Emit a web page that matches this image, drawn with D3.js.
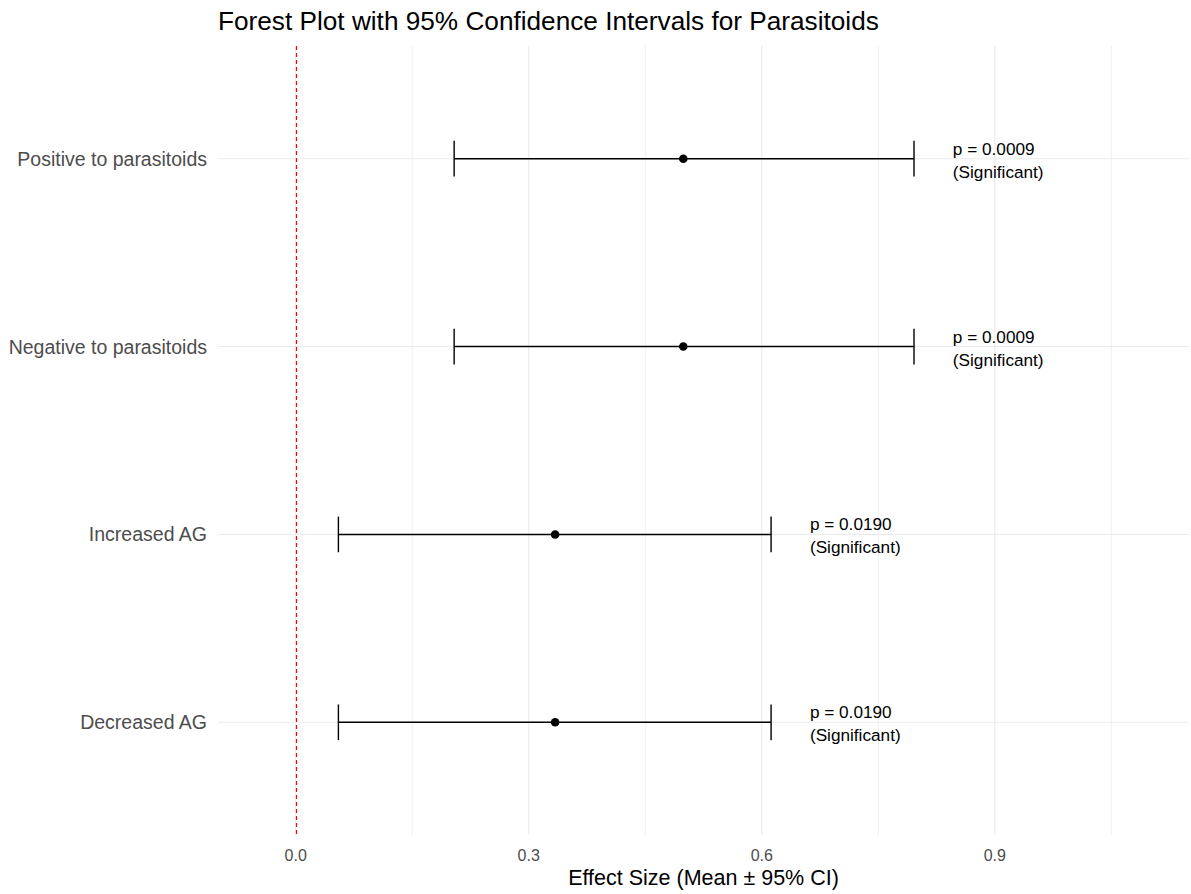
<!DOCTYPE html>
<html>
<head>
<meta charset="UTF-8">
<title>Forest Plot with 95% Confidence Intervals for Parasitoids</title>
<script src="https://cdn.jsdelivr.net/npm/d3@7"></script>
<style>
  body { margin: 0; background: #fff; }
  svg { display: block; font-family: "Liberation Sans", Arial, sans-serif; }
  .grid line { stroke: #ebebeb; }
  .ytick { fill: #4d4d4d; font-size: 19.5px; }
  .xtick { fill: #4d4d4d; font-size: 16px; }
  .note { fill: #000; font-size: 17.2px; }
</style>
</head>
<body>
<div id="chart"></div>
<script>
// data
var categories = ["Positive to parasitoids", "Negative to parasitoids", "Increased AG", "Decreased AG"];
var means  = [0.499, 0.499, 0.334, 0.334];
var lower  = [0.204, 0.204, 0.055, 0.055];
var upper  = [0.796, 0.796, 0.612, 0.612];
var pvals  = ["0.0009", "0.0009", "0.0190", "0.0190"];
var signif = ["Significant", "Significant", "Significant", "Significant"];
var xTicks = [0, 0.3, 0.6, 0.9];
var xMinor = [0.15, 0.45, 0.75, 1.05];

var width = 1191, height = 894;
var panel = {left: 218, right: 1189, top: 46, bottom: 835};

var svg = d3.select("#chart").append("svg")
    .attr("width", width)
    .attr("height", height);

var x = d3.scaleLinear()
    .domain([-0.1, 1.15])
    .range([panel.left, panel.right]);

var y = d3.scalePoint()
    .domain(categories)
    .range([panel.top, panel.bottom])
    .padding(0.6);

var rows = categories.map(function(c, i) {
  return {cat: c, mean: means[i], lo: lower[i], hi: upper[i], p: pvals[i], sig: signif[i]};
});

// grid
var grid = svg.append("g").attr("class", "grid");
grid.selectAll(".minor").data(xMinor).enter().append("line")
    .attr("x1", x).attr("x2", x)
    .attr("y1", panel.top).attr("y2", panel.bottom)
    .style("stroke-width", 0.8);
grid.selectAll(".major").data(xTicks).enter().append("line")
    .attr("x1", x).attr("x2", x)
    .attr("y1", panel.top).attr("y2", panel.bottom)
    .style("stroke-width", 1.1);
grid.selectAll(".hline").data(categories).enter().append("line")
    .attr("x1", panel.left).attr("x2", panel.right)
    .attr("y1", y).attr("y2", y)
    .style("stroke-width", 1.1);

// reference line at zero
var x0 = Math.round(x(0)) + 0.5;
svg.append("line")
    .attr("x1", x0).attr("x2", x0)
    .attr("y1", panel.top).attr("y2", panel.bottom)
    .attr("stroke", "#ff0000")
    .attr("stroke-width", 1.2)
    .attr("stroke-dasharray", "4,3");

// error bars
var half = y.step() * 0.095;
var bars = svg.append("g").selectAll("g")
    .data(rows).enter().append("g")
    .attr("stroke", "#000")
    .attr("stroke-width", 1.4);

bars.append("line")
    .attr("x1", function(d) { return x(d.lo); })
    .attr("x2", function(d) { return x(d.hi); })
    .attr("y1", function(d) { return y(d.cat); })
    .attr("y2", function(d) { return y(d.cat); });
bars.append("line")
    .attr("x1", function(d) { return x(d.lo); })
    .attr("x2", function(d) { return x(d.lo); })
    .attr("y1", function(d) { return y(d.cat) - half; })
    .attr("y2", function(d) { return y(d.cat) + half; });
bars.append("line")
    .attr("x1", function(d) { return x(d.hi); })
    .attr("x2", function(d) { return x(d.hi); })
    .attr("y1", function(d) { return y(d.cat) - half; })
    .attr("y2", function(d) { return y(d.cat) + half; });

svg.append("g").selectAll("circle")
    .data(rows).enter().append("circle")
    .attr("cx", function(d) { return x(d.mean); })
    .attr("cy", function(d) { return y(d.cat); })
    .attr("r", 4.3)
    .attr("fill", "#000");

// p-value notes
var notes = svg.append("g").selectAll("text")
    .data(rows).enter().append("text")
    .attr("class", "note")
    .attr("x", function(d) { return x(d.hi + 0.05); })
    .attr("y", function(d) { return y(d.cat); });
notes.append("tspan")
    .attr("x", function(d) { return x(d.hi + 0.05); })
    .attr("dy", -4)
    .text(function(d) { return "p = " + d.p; });
notes.append("tspan")
    .attr("x", function(d) { return x(d.hi + 0.05); })
    .attr("dy", 23)
    .text(function(d) { return "(" + d.sig + ")"; });

// y axis labels
svg.append("g").selectAll("text")
    .data(categories).enter().append("text")
    .attr("class", "ytick")
    .attr("x", 207)
    .attr("y", function(d) { return y(d) + 7; })
    .attr("text-anchor", "end")
    .text(function(d) { return d; });

// x axis labels
svg.append("g").selectAll("text")
    .data(xTicks).enter().append("text")
    .attr("class", "xtick")
    .attr("x", x)
    .attr("y", 861)
    .attr("text-anchor", "middle")
    .text(d3.format(".1f"));

svg.append("text")
    .attr("x", (panel.left + panel.right) / 2)
    .attr("y", 885)
    .attr("text-anchor", "middle")
    .style("font-size", "21.5px")
    .text("Effect Size (Mean ± 95% CI)");

svg.append("text")
    .attr("x", 218)
    .attr("y", 30)
    .style("font-size", "26.2px")
    .text("Forest Plot with 95% Confidence Intervals for Parasitoids");
</script>
</body>
</html>
